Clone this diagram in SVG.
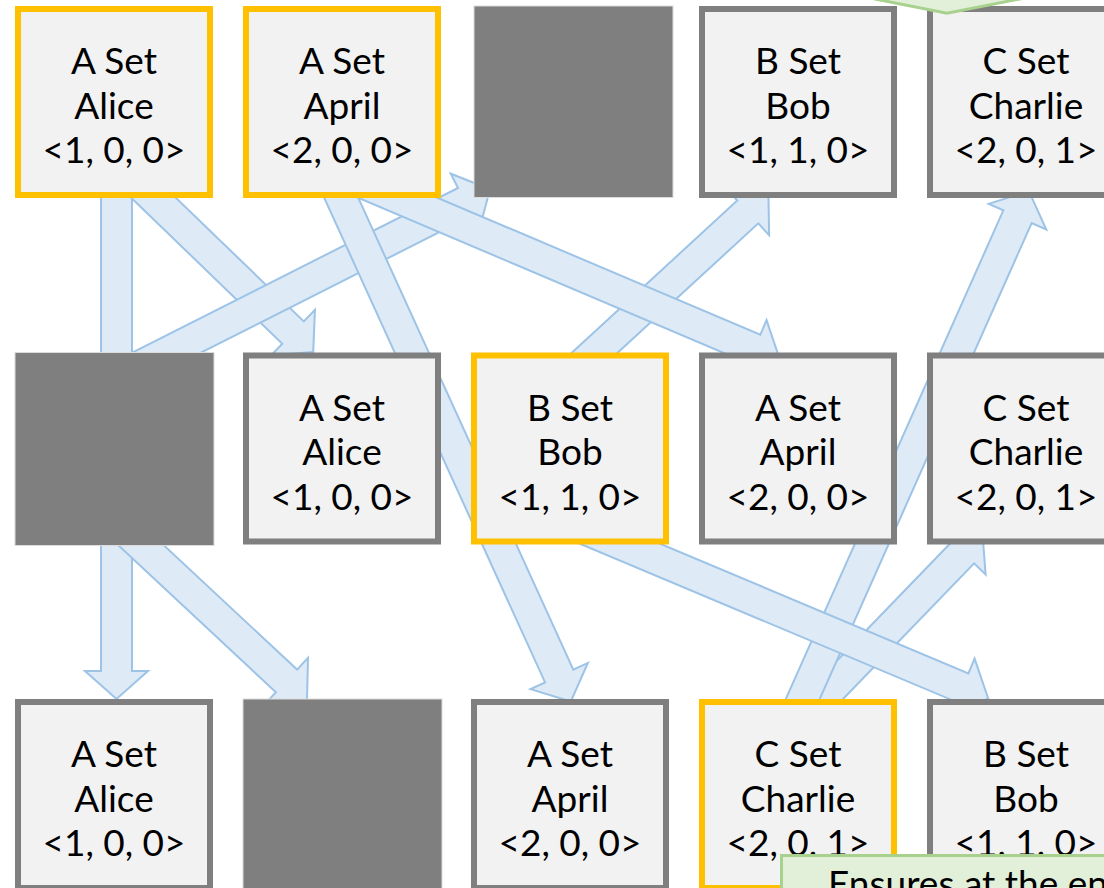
<svg xmlns="http://www.w3.org/2000/svg" width="1104" height="888" viewBox="0 0 1104 888">
  <style>
    .arrow { fill: #deebf7; stroke: #9dc3e6; stroke-width: 2; stroke-linejoin: miter; }
    .box { fill: #f2f2f2; stroke-width: 6; }
    .gray { stroke: #7f7f7f; }
    .gold { stroke: #ffc000; }
    .blank { fill: #7f7f7f; stroke: #dcdcdc; stroke-width: 1; }
    .label { font-family: Lato, "Liberation Sans", sans-serif; font-size: 37px; fill: #000; text-anchor: middle; }
    .note { fill: #e2f0d9; stroke: #a9d18e; stroke-width: 3; }
    .noteText { font-family: Lato, "Liberation Sans", sans-serif; font-size: 37px; fill: #000; }
  </style>
  <rect width="1104" height="888" fill="#ffffff"/>

  <!-- block arrows: tip at local origin, shaft runs back along -x -->
  <g id="connectors">
    <polygon class="arrow" transform="translate(116.5,400) rotate(90)" points="-250,-15.5 -28,-15.5 -28,-31.5 0,0 -28,31.5 -28,15.5 -250,15.5"/>
    <polygon class="arrow" transform="translate(116.5,699) rotate(90)" points="-200,-15.5 -28,-15.5 -28,-31.5 0,0 -28,31.5 -28,15.5 -200,15.5"/>
    <polygon class="arrow" transform="translate(307,700) rotate(43)" points="-300,-15.5 -28,-15.5 -28,-31.5 0,0 -28,31.5 -28,15.5 -300,15.5"/>
    <polygon class="arrow" transform="translate(313.2,352) rotate(44)" points="-290,-15.5 -28,-15.5 -28,-31.5 0,0 -28,31.5 -28,15.5 -290,15.5"/>
    <polygon class="arrow" transform="translate(490,189.2) rotate(-26.8)" points="-470,-15.5 -28,-15.5 -28,-31.5 0,0 -28,31.5 -28,15.5 -470,15.5"/>
    <polygon class="arrow" transform="translate(570.8,701.5) rotate(65.5)" points="-606,-15.5 -28,-15.5 -28,-31.5 0,0 -28,31.5 -28,15.5 -606,15.5"/>
    <polygon class="arrow" transform="translate(768.4,193) rotate(-42.6)" points="-306,-15.5 -28,-15.5 -28,-31.5 0,0 -28,31.5 -28,15.5 -306,15.5"/>
    <polygon class="arrow" transform="translate(780,360) rotate(23)" points="-478,-15.5 -28,-15.5 -28,-31.5 0,0 -28,31.5 -28,15.5 -478,15.5"/>
    <polygon class="arrow" transform="translate(982.4,532.4) rotate(-46)" points="-289,-15.5 -28,-15.5 -28,-31.5 0,0 -28,31.5 -28,15.5 -289,15.5"/>
    <polygon class="arrow" transform="translate(1028.9,191.1) rotate(-66)" points="-600,-15.5 -28,-15.5 -28,-31.5 0,0 -28,31.5 -28,15.5 -600,15.5"/>
    <polygon class="arrow" transform="translate(988.2,698.5) rotate(22.8)" points="-512,-15.5 -28,-15.5 -28,-31.5 0,0 -28,31.5 -28,15.5 -512,15.5"/>
  </g>

  <!-- row 1 -->
  <g id="r1c1">
    <rect class="box gold" x="18" y="9" width="192" height="186"/>
    <text class="label" x="114" y="74"><tspan x="114">A Set</tspan><tspan x="114" dy="44.5">Alice</tspan><tspan x="114" dy="44.5">&lt;1, 0, 0&gt;</tspan></text>
  </g>
  <g id="r1c2">
    <rect class="box gold" x="246" y="9" width="192" height="186"/>
    <text class="label" x="342" y="74"><tspan x="342">A Set</tspan><tspan x="342" dy="44.5">April</tspan><tspan x="342" dy="44.5">&lt;2, 0, 0&gt;</tspan></text>
  </g>
  <g id="r1c3">
    <rect class="blank" x="474" y="6" width="199" height="191.5"/>
  </g>
  <g id="r1c4">
    <rect class="box gray" x="702" y="9" width="192" height="186"/>
    <text class="label" x="798" y="74"><tspan x="798">B Set</tspan><tspan x="798" dy="44.5">Bob</tspan><tspan x="798" dy="44.5">&lt;1, 1, 0&gt;</tspan></text>
  </g>
  <g id="r1c5">
    <rect class="box gray" x="930" y="9" width="192" height="186"/>
    <text class="label" x="1026" y="74"><tspan x="1026">C Set</tspan><tspan x="1026" dy="44.5">Charlie</tspan><tspan x="1026" dy="44.5">&lt;2, 0, 1&gt;</tspan></text>
  </g>

  <!-- row 2 -->
  <g id="r2c1">
    <rect class="blank" x="15" y="352.5" width="199" height="193"/>
  </g>
  <g id="r2c2">
    <rect class="box gray" x="246" y="355.5" width="192" height="186"/>
    <text class="label" x="342" y="420.5"><tspan x="342">A Set</tspan><tspan x="342" dy="44.5">Alice</tspan><tspan x="342" dy="44.5">&lt;1, 0, 0&gt;</tspan></text>
  </g>
  <g id="r2c3">
    <rect class="box gold" x="474" y="355.5" width="192" height="186"/>
    <text class="label" x="570" y="420.5"><tspan x="570">B Set</tspan><tspan x="570" dy="44.5">Bob</tspan><tspan x="570" dy="44.5">&lt;1, 1, 0&gt;</tspan></text>
  </g>
  <g id="r2c4">
    <rect class="box gray" x="702" y="355.5" width="192" height="186"/>
    <text class="label" x="798" y="420.5"><tspan x="798">A Set</tspan><tspan x="798" dy="44.5">April</tspan><tspan x="798" dy="44.5">&lt;2, 0, 0&gt;</tspan></text>
  </g>
  <g id="r2c5">
    <rect class="box gray" x="930" y="355.5" width="192" height="186"/>
    <text class="label" x="1026" y="420.5"><tspan x="1026">C Set</tspan><tspan x="1026" dy="44.5">Charlie</tspan><tspan x="1026" dy="44.5">&lt;2, 0, 1&gt;</tspan></text>
  </g>

  <!-- row 3 -->
  <g id="r3c1">
    <rect class="box gray" x="18" y="702" width="192" height="186"/>
    <text class="label" x="114" y="767"><tspan x="114">A Set</tspan><tspan x="114" dy="44.5">Alice</tspan><tspan x="114" dy="44.5">&lt;1, 0, 0&gt;</tspan></text>
  </g>
  <g id="r3c2">
    <rect class="blank" x="243" y="699" width="199" height="193"/>
  </g>
  <g id="r3c3">
    <rect class="box gray" x="474" y="702" width="192" height="186"/>
    <text class="label" x="570" y="767"><tspan x="570">A Set</tspan><tspan x="570" dy="44.5">April</tspan><tspan x="570" dy="44.5">&lt;2, 0, 0&gt;</tspan></text>
  </g>
  <g id="r3c4">
    <rect class="box gold" x="702" y="702" width="192" height="186"/>
    <text class="label" x="798" y="767"><tspan x="798">C Set</tspan><tspan x="798" dy="44.5">Charlie</tspan><tspan x="798" dy="44.5">&lt;2, 0, 1&gt;</tspan></text>
  </g>
  <g id="r3c5">
    <rect class="box gray" x="930" y="702" width="192" height="186"/>
    <text class="label" x="1026" y="767"><tspan x="1026">B Set</tspan><tspan x="1026" dy="44.5">Bob</tspan><tspan x="1026" dy="44.5">&lt;1, 1, 0&gt;</tspan></text>
  </g>

  <!-- callouts -->
  <g id="calloutTop">
    <polygon class="note" points="860,-30 1035,-30 1035,-4 947,13.3 860,-4"/>
  </g>
  <g id="calloutBottom">
    <rect class="note" x="781.5" y="855.5" width="340" height="60"/>
    <text class="noteText" x="828" y="897">Ensures at the end</text>
  </g>
</svg>
